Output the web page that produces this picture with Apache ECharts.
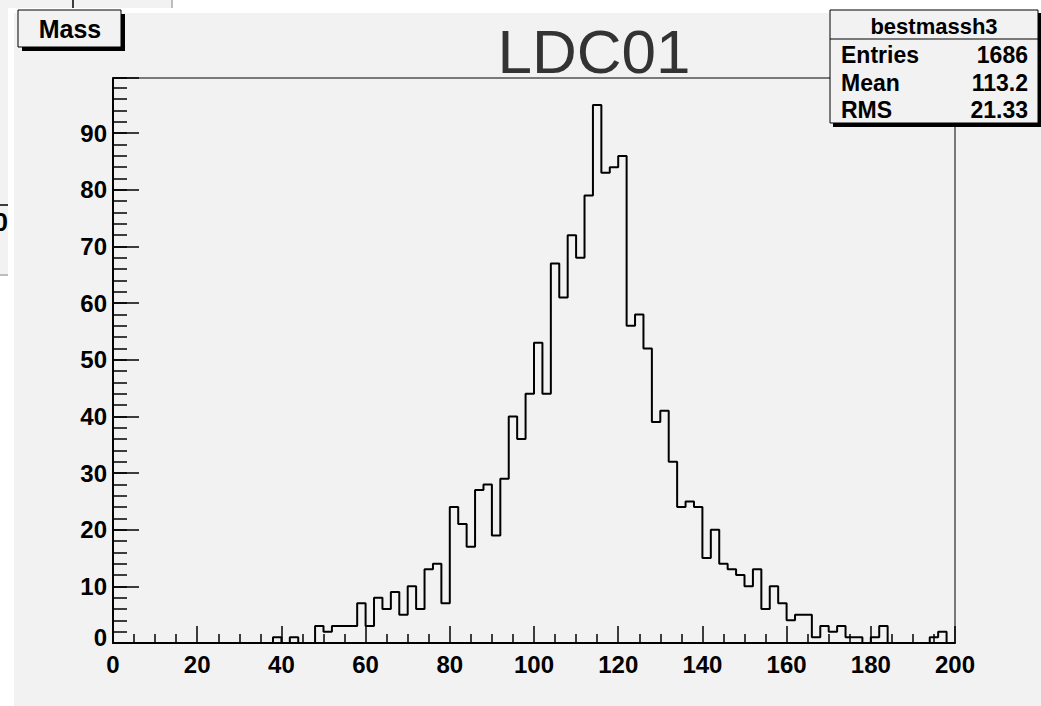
<!DOCTYPE html>
<html>
<head>
<meta charset="utf-8">
<script src="https://cdn.jsdelivr.net/npm/echarts@6/dist/echarts.min.js"></script>
<style>
  html, body { margin: 0; padding: 0; background: #ffffff; }
  #chart { width: 1041px; height: 706px; }
</style>
</head>
<body>
<div id="chart"></div>
<script>
// Histogram binning: 100 bins of width 2 starting at 0
const binLow = 0;
const binWidth = 2;
const counts = [
  0, 0, 0, 0, 0, 0, 0, 0, 0, 0,
  0, 0, 0, 0, 0, 0, 0, 0, 0, 1,
  0, 1, 0, 0, 3, 2, 3, 3, 3, 7,
  3, 8, 6, 9, 5, 10, 6, 13, 14, 7,
  24, 21, 17, 27, 28, 19, 29, 40, 36, 44,
  53, 44, 67, 61, 72, 68, 79, 95, 83, 84,
  86, 56, 58, 52, 39, 41, 32, 24, 25, 24,
  15, 20, 14, 13, 12, 10, 13, 6, 10, 7,
  4, 5, 5, 1, 3, 2, 3, 1, 1, 0,
  1, 3, 0, 0, 0, 0, 0, 1, 2, 0
];

// Axis ranges and tick spacing
const xRange = [0, 200];
const xMajorStep = 20;
const xMinorSplit = 4;
const yRange = [0, 99.75];
const yMajorStep = 10;
const yMinorStep = 2;

// Texts
const canvasTitle = 'LDC01';
const histTitle = 'Mass';
const statsTitle = 'bestmassh3';
const statsNames = ['Entries', 'Mean', 'RMS'];
const statsValues = ['1686', '113.2', '21.33'];

// Step outline points: left edge of every bin, plus the closing right edge
const stepData = counts.map((c, i) => [binLow + i * binWidth, c]);
stepData.push([binLow + counts.length * binWidth, counts[counts.length - 1]]);

const FONT = '"Liberation Sans", Arial, Helvetica, sans-serif';
const PAD = '#f2f2f2';

const chart = echarts.init(document.getElementById('chart'), null, { renderer: 'svg' });

const labelStyle = {
  color: '#000',
  fontFamily: FONT,
  fontWeight: 'bold',
  fontSize: 24
};

const statsRowsY = [55, 83, 110];
const statsGraphics = [];
statsNames.forEach((name, i) => {
  statsGraphics.push({
    type: 'text', z: 102, x: 841, y: statsRowsY[i],
    style: { text: name, fill: '#000', font: 'bold 23px ' + FONT, textAlign: 'left', textVerticalAlign: 'middle' }
  });
  statsGraphics.push({
    type: 'text', z: 102, x: 1028, y: statsRowsY[i],
    style: { text: statsValues[i], fill: '#000', font: 'bold 23px ' + FONT, textAlign: 'right', textVerticalAlign: 'middle' }
  });
});

chart.setOption({
  animation: false,
  backgroundColor: '#ffffff',
  grid: {
    left: 113, right: 86, top: 78, bottom: 63,
    show: true, borderColor: '#000', borderWidth: 1, backgroundColor: 'transparent'
  },
  xAxis: {
    type: 'value',
    min: xRange[0], max: xRange[1], interval: xMajorStep,
    axisLine: { show: true, onZero: false, lineStyle: { color: '#000', width: 2 } },
    axisTick: { show: true, inside: true, length: 17, lineStyle: { color: '#000', width: 1.5 } },
    minorTick: { show: true, splitNumber: xMinorSplit, length: 9, lineStyle: { color: '#000', width: 1.5 } },
    splitLine: { show: false },
    axisLabel: Object.assign({ margin: 9 }, labelStyle)
  },
  yAxis: [
    {
      type: 'value', position: 'left',
      min: yRange[0], max: yRange[1], interval: yMajorStep,
      axisLine: { show: true, lineStyle: { color: '#000', width: 2 } },
      axisTick: { show: true, inside: true, length: 26, lineStyle: { color: '#000', width: 1.5 } },
      splitLine: { show: false },
      axisLabel: Object.assign({
        margin: 6,
        formatter: v => (v % yMajorStep === 0 ? (v === 0 ? '{z|0}' : String(v)) : ''),
        rich: { z: Object.assign({ padding: [0, 0, 12, 0] }, labelStyle) }
      }, labelStyle)
    },
    {
      type: 'value', position: 'left',
      min: yRange[0], max: yRange[1], interval: yMinorStep,
      axisLine: { show: false },
      axisTick: { show: true, inside: true, length: 14, lineStyle: { color: '#000', width: 1.5 } },
      splitLine: { show: false },
      axisLabel: { show: false }
    }
  ],
  series: [{
    type: 'line',
    step: 'end',
    yAxisIndex: 0,
    symbol: 'none',
    lineStyle: { color: '#000', width: 2 },
    data: stepData
  }],
  graphic: [
    // neighbouring pad peeking out at the top left
    { type: 'rect', z: -30, shape: { x: -2, y: -2, width: 174, height: 277 },
      style: { fill: PAD, stroke: '#bdbdbd', lineWidth: 2 } },
    { type: 'line', z: -29, shape: { x1: 73, y1: 0, x2: 73, y2: 9 },
      style: { stroke: '#000', lineWidth: 1.5 } },
    { type: 'line', z: -29, shape: { x1: 0, y1: 205, x2: 9, y2: 205 },
      style: { stroke: '#000', lineWidth: 1.5 } },
    { type: 'text', z: -29, x: 8, y: 222,
      style: { text: '0', fill: '#000', font: 'bold 26px ' + FONT, textAlign: 'right', textVerticalAlign: 'middle' } },
    // this pad: white margin and grey fill
    { type: 'rect', z: -20, shape: { x: 8, y: 8, width: 1040, height: 700 }, style: { fill: '#ffffff' } },
    { type: 'rect', z: -19, shape: { x: 14, y: 13, width: 1030, height: 700 }, style: { fill: PAD } },

    // histogram title box
    { type: 'rect', z: 100, shape: { x: 22, y: 14, width: 103, height: 37 }, style: { fill: '#000' } },
    { type: 'rect', z: 101, shape: { x: 18, y: 10, width: 103, height: 37 },
      style: { fill: PAD, stroke: '#000', lineWidth: 1 } },
    { type: 'text', z: 102, x: 70, y: 29,
      style: { text: histTitle, fill: '#000', font: 'bold 25px ' + FONT, textAlign: 'center', textVerticalAlign: 'middle' } },

    // canvas title
    { type: 'text', z: 50, x: 594, y: 51,
      style: { text: canvasTitle, fill: '#333333', font: '62px ' + FONT, textAlign: 'center', textVerticalAlign: 'middle' } },

    // statistics box
    { type: 'rect', z: 100, shape: { x: 833, y: 13, width: 208, height: 114 }, style: { fill: '#000' } },
    { type: 'rect', z: 101, shape: { x: 830, y: 10, width: 208, height: 113 },
      style: { fill: PAD, stroke: '#000', lineWidth: 1 } },
    { type: 'line', z: 102, shape: { x1: 830, y1: 39, x2: 1038, y2: 39 },
      style: { stroke: '#000', lineWidth: 1 } },
    { type: 'text', z: 102, x: 934, y: 26,
      style: { text: statsTitle, fill: '#000', font: 'bold 22px ' + FONT, textAlign: 'center', textVerticalAlign: 'middle' } }
  ].concat(statsGraphics)
});
</script>
</body>
</html>
